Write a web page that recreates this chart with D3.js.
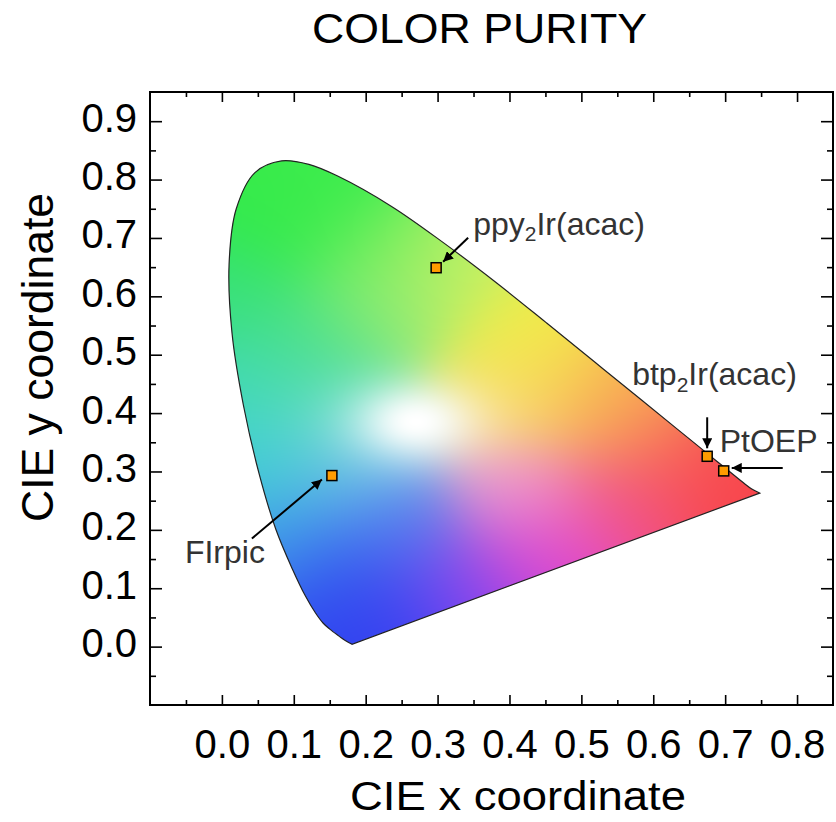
<!DOCTYPE html>
<html>
<head>
<meta charset="utf-8">
<script src="https://cdn.jsdelivr.net/npm/d3@7"></script>
<style>
  body { margin: 0; background: #fff; }
  text { font-family: "Liberation Sans", Arial, sans-serif; }
</style>
</head>
<body>
<div id="chart"></div>
<script>
// CIE 1931 chromaticity chart - color purity of phosphorescent emitters

// Spectral locus outline (violet end -> red end)
const locusX = [0.181, 0.171, 0.163, 0.150, 0.141, 0.130, 0.116, 0.098, 0.075, 0.052,
                0.030, 0.014, 0.010, 0.020, 0.046, 0.083, 0.121, 0.161, 0.236, 0.308,
                0.380, 0.451, 0.519, 0.582, 0.633, 0.672, 0.698, 0.725, 0.737, 0.748];
const locusY = [0.004, 0.011, 0.018, 0.030, 0.040, 0.058, 0.087, 0.133, 0.201, 0.295,
                0.413, 0.538, 0.655, 0.750, 0.812, 0.832, 0.826, 0.806, 0.754, 0.692,
                0.625, 0.555, 0.487, 0.424, 0.373, 0.334, 0.308, 0.281, 0.270, 0.263];

// Emitters (CIE x, y)
const emitterNames = ["ppy", "btp", "PtOEP", "FIrpic"];
const emitterX = [0.298, 0.675, 0.698, 0.153];
const emitterY = [0.649, 0.326, 0.301, 0.293];

// Tick labels
const xTicks = [0.0, 0.1, 0.2, 0.3, 0.4, 0.5, 0.6, 0.7, 0.8];
const yTicks = [0.0, 0.1, 0.2, 0.3, 0.4, 0.5, 0.6, 0.7, 0.8, 0.9];

// Dimensions and margins
const margin = {top: 92, right: 3, bottom: 117, left: 150},
      width = 836 - margin.left - margin.right,
      height = 822 - margin.top - margin.bottom;

const svg = d3.select("#chart")
  .append("svg")
    .attr("width", 836)
    .attr("height", 822);

const g = svg.append("g")
    .attr("transform", `translate(${margin.left},${margin.top})`);

const x = d3.scaleLinear().domain([-0.1, 0.85]).range([0, width]);
const y = d3.scaleLinear().domain([-0.1, 0.95]).range([height, 0]);

// Colour wash of the diagram: smooth blend of hue anchors (styling only)
const washAnchors = [
  [0.08, 0.72, "#30ea48"], [0.12, 0.80, "#3cec4c"], [0.02, 0.60, "#38e07c"],
  [0.20, 0.68, "#64ee5c"], [0.30, 0.63, "#c8f064"], [0.42, 0.52, "#f2ee44"],
  [0.52, 0.43, "#f8c050"], [0.58, 0.38, "#f89258"], [0.66, 0.31, "#f85252"],
  [0.73, 0.27, "#f84048"], [0.56, 0.25, "#f0508c"], [0.44, 0.16, "#e044d0"],
  [0.33, 0.10, "#8444f0"], [0.22, 0.04, "#3040f0"], [0.16, 0.12, "#3050f0"],
  [0.09, 0.20, "#40a4e8"], [0.05, 0.32, "#40d0d4"], [0.03, 0.45, "#40d8b8"],
  [0.12, 0.52, "#48e088"], [0.15, 0.41, "#60dcc0"], [0.40, 0.43, "#f8dc6c"],
  [0.41, 0.27, "#f0a0d0"], [0.24, 0.20, "#5078f0"], [0.18, 0.30, "#70c4e8"],
  [0.22, 0.57, "#88ea78"]
].map(a => { const c = d3.rgb(a[2]); return [a[0], a[1], c.r, c.g, c.b]; });

function washColor(cx, cy) {
  let sw = 0, r = 0, gg = 0, b = 0;
  for (const a of washAnchors) {
    const d2 = (cx - a[0]) * (cx - a[0]) + (cy - a[1]) * (cy - a[1]);
    const w = Math.exp(-d2 / (2 * 0.07 * 0.07)) + 1e-30;
    sw += w; r += w * a[2]; gg += w * a[3]; b += w * a[4];
  }
  // bright white spot near the centre
  const dx = (cx - 0.27) / 0.065, dy = (cy - 0.385) / 0.05;
  const wh = Math.exp(-(dx * dx + dy * dy) / 2);
  return [r / sw, gg / sw, b / sw].map(c => c + (255 - c) * wh);
}

const canvas = document.createElement("canvas");
canvas.width = width;
canvas.height = height;
const ctx = canvas.getContext("2d");
const img = ctx.createImageData(width, height);
for (let j = 0; j < height; j++) {
  const cy = y.invert(j + 0.5);
  for (let i = 0; i < width; i++) {
    const cx = x.invert(i + 0.5);
    const c = washColor(cx, cy);
    const k = (j * width + i) * 4;
    img.data[k] = c[0]; img.data[k + 1] = c[1]; img.data[k + 2] = c[2]; img.data[k + 3] = 255;
  }
}
ctx.putImageData(img, 0, 0);

const locus = locusX.map((d, i) => [d, locusY[i]]);
const locusPath = d3.line()
  .x(d => x(d[0]))
  .y(d => y(d[1]))
  .curve(d3.curveCatmullRom)(locus) + "Z";

g.append("clipPath")
    .attr("id", "locus-clip")
  .append("path")
    .attr("d", locusPath);

g.append("image")
    .attr("x", 0)
    .attr("y", 0)
    .attr("width", width)
    .attr("height", height)
    .attr("href", canvas.toDataURL())
    .attr("clip-path", "url(#locus-clip)");

g.append("path")
    .attr("d", locusPath)
    .attr("fill", "none")
    .attr("stroke", "#222")
    .attr("stroke-width", 1.2);

// Axes: major + minor ticks, all pointing inward, mirrored on top and right
const xMinorOnly = d3.range(-1, 17, 2).map(i => i / 20);
const yMinorOnly = d3.range(-1, 19, 2).map(i => i / 20);

function styleAxis(sel) {
  sel.select(".domain").remove();
  sel.selectAll(".tick line").attr("stroke", "#000").attr("stroke-width", 1.6);
}

g.append("g")
    .attr("transform", `translate(0,${height})`)
    .call(d3.axisBottom(x).tickValues(xTicks).tickSize(-10).tickPadding(25).tickFormat(d3.format(".1f")))
    .call(styleAxis)
    .selectAll("text")
      .style("font-size", "40px")
      .attr("fill", "#000");
g.append("g")
    .attr("transform", `translate(0,${height})`)
    .call(d3.axisBottom(x).tickValues(xMinorOnly).tickSize(-5).tickFormat(""))
    .call(styleAxis);
g.append("g")
    .call(d3.axisTop(x).tickValues(xTicks).tickSize(-10).tickFormat(""))
    .call(styleAxis);
g.append("g")
    .call(d3.axisTop(x).tickValues(xMinorOnly).tickSize(-5).tickFormat(""))
    .call(styleAxis);

g.append("g")
    .call(d3.axisLeft(y).tickValues(yTicks).tickSize(-12).tickPadding(13).tickFormat(d3.format(".1f")))
    .call(styleAxis)
    .selectAll("text")
      .style("font-size", "40px")
      .attr("dy", "0.25em")
      .attr("fill", "#000");
g.append("g")
    .call(d3.axisLeft(y).tickValues(yMinorOnly).tickSize(-6).tickFormat(""))
    .call(styleAxis);
g.append("g")
    .attr("transform", `translate(${width},0)`)
    .call(d3.axisRight(y).tickValues(yTicks).tickSize(-12).tickFormat(""))
    .call(styleAxis);
g.append("g")
    .attr("transform", `translate(${width},0)`)
    .call(d3.axisRight(y).tickValues(yMinorOnly).tickSize(-6).tickFormat(""))
    .call(styleAxis);

// Frame
g.append("rect")
    .attr("width", width)
    .attr("height", height)
    .attr("fill", "none")
    .attr("stroke", "#000")
    .attr("stroke-width", 2);

// Arrow head
svg.append("defs").append("marker")
    .attr("id", "arrow")
    .attr("viewBox", "0 0 10 10")
    .attr("refX", 10)
    .attr("refY", 5)
    .attr("markerWidth", 5)
    .attr("markerHeight", 5)
    .attr("markerUnits", "strokeWidth")
    .attr("orient", "auto")
  .append("path")
    .attr("d", "M0,0 L10,5 L0,10 Z")
    .attr("fill", "#000");

// Annotation layout: label start + arrow from/to, relative to the marker (px)
const labelOffset = [[37, -33], [-75, -71], [-4, -19], [-147, 87]];
const arrowOffset = [[32, -30, 7, -6], [0, -39, 0, -8], [59, -3, 8, -3], [-80, 63, -10, 4]];
const labelParts = [["ppy", "2", "Ir(acac)"], ["btp", "2", "Ir(acac)"], ["PtOEP"], ["FIrpic"]];

emitterNames.forEach((name, i) => {
  const px = x(emitterX[i]), py = y(emitterY[i]);
  const a = arrowOffset[i];
  g.append("line")
      .attr("x1", px + a[0]).attr("y1", py + a[1])
      .attr("x2", px + a[2]).attr("y2", py + a[3])
      .attr("stroke", "#000")
      .attr("stroke-width", 2)
      .attr("marker-end", "url(#arrow)");

  const t = g.append("text")
      .attr("x", px + labelOffset[i][0])
      .attr("y", py + labelOffset[i][1])
      .attr("fill", "#333")
      .style("font-size", "32px");
  const parts = labelParts[i];
  if (parts.length === 1) {
    t.text(parts[0]);
  } else {
    t.append("tspan").text(parts[0]);
    t.append("tspan").attr("dy", "0.3em").style("font-size", "21px").text(parts[1]);
    t.append("tspan").attr("dy", "-0.2em").text(parts[2]);
  }
});

// Markers
g.selectAll(".emitter")
  .data(emitterNames)
  .enter()
  .append("rect")
    .attr("class", "emitter")
    .attr("x", (d, i) => x(emitterX[i]) - 5)
    .attr("y", (d, i) => y(emitterY[i]) - 5)
    .attr("width", 10)
    .attr("height", 10)
    .attr("fill", "#ff9c00")
    .attr("stroke", "#000")
    .attr("stroke-width", 1.5);

// Titles
svg.append("text")
    .attr("x", 479.5)
    .attr("y", 43)
    .attr("text-anchor", "middle")
    .style("font-size", "42px")
    .attr("textLength", 335)
    .attr("lengthAdjust", "spacingAndGlyphs")
    .text("COLOR PURITY");

svg.append("text")
    .attr("x", 518)
    .attr("y", 810)
    .attr("text-anchor", "middle")
    .style("font-size", "40px")
    .attr("textLength", 336)
    .attr("lengthAdjust", "spacingAndGlyphs")
    .text("CIE x coordinate");

svg.append("text")
    .attr("transform", "translate(53,357.5) rotate(-90)")
    .attr("text-anchor", "middle")
    .style("font-size", "44px")
    .attr("textLength", 329)
    .attr("lengthAdjust", "spacingAndGlyphs")
    .text("CIE y coordinate");
</script>
</body>
</html>
